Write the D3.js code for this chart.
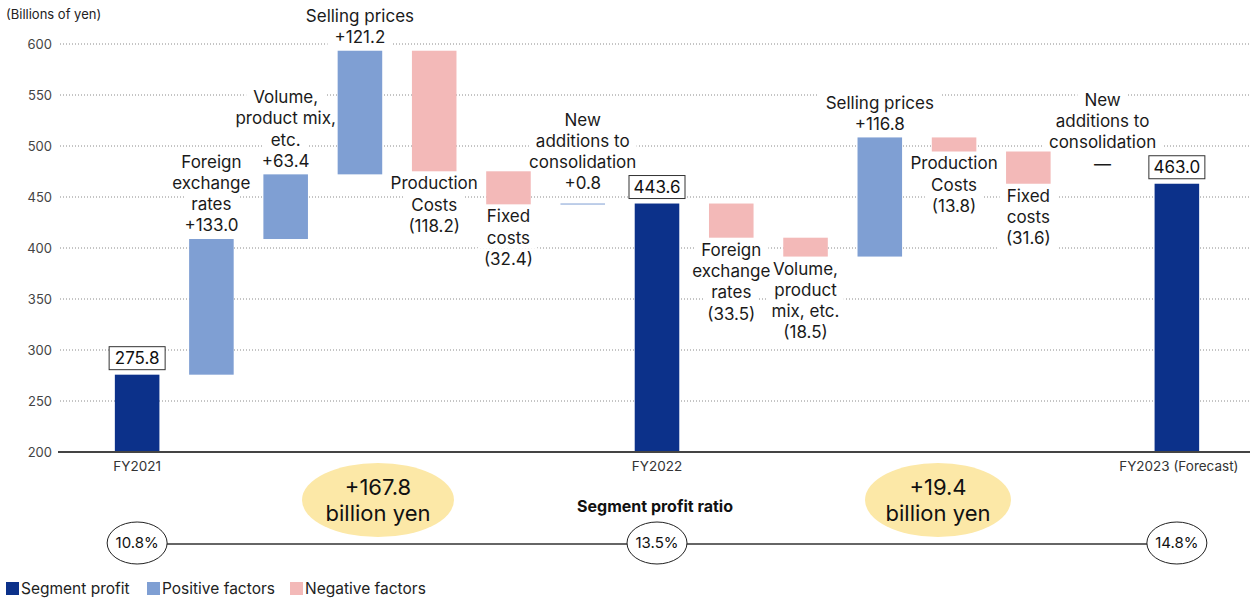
<!DOCTYPE html>
<html>
<head>
<meta charset="utf-8">
<script src="https://cdn.jsdelivr.net/npm/d3@7"></script>
<style>
  html, body { margin: 0; padding: 0; background: #fff; }
  svg { display: block; font-family: Inter, "Noto Sans", sans-serif; }
</style>
</head>
<body>
<svg id="chart" width="1252" height="598"></svg>
<script>
// ---------- data ----------
const categories = ["FY2021", "fx1", "vol1", "sell1", "prod1", "fixed1", "new1",
                    "FY2022", "fx2", "vol2", "sell2", "prod2", "fixed2", "new2", "FY2023"];
const kinds = ["total", "delta", "delta", "delta", "delta", "delta", "delta",
               "total", "delta", "delta", "delta", "delta", "delta", "delta", "total"];
const values = [275.8, 133.0, 63.4, 121.2, -118.2, -32.4, 0.8,
                443.6, -33.5, -18.5, 116.8, -13.8, -31.6, 0, 463.0];
const factorNames = [
  null,
  ["Foreign", "exchange", "rates"],
  ["Volume,", "product mix,", "etc."],
  ["Selling prices"],
  ["Production", "Costs"],
  ["Fixed", "costs"],
  ["New", "additions to", "consolidation"],
  null,
  ["Foreign", "exchange", "rates"],
  ["Volume,", "product", "mix, etc."],
  ["Selling prices"],
  ["Production", "Costs"],
  ["Fixed", "costs"],
  ["New", "additions to", "consolidation"],
  null
];
const axisLabels = ["FY2021", "FY2022", "FY2023 (Forecast)"];
const yTicks = [200, 250, 300, 350, 400, 450, 500, 550, 600];
const changeLabels = [["+167.8", "billion yen"], ["+19.4", "billion yen"]];
const profitRatios = ["10.8%", "13.5%", "14.8%"];
const legendItems = ["Segment profit", "Positive factors", "Negative factors"];

// ---------- styles ----------
const C_TOTAL = "#0c318a", C_POS = "#7f9fd3", C_NEG = "#f3b9b8", C_YEL = "#fce8a7";

// ---------- compute waterfall ----------
let run = 0;
const bars = categories.map((c, i) => {
  const v = values[i];
  let lo, hi;
  if (kinds[i] === "total") { lo = 200; hi = v; run = v; }
  else { const s = run; run = s + v; lo = Math.min(s, run); hi = Math.max(s, run); }
  return { key: c, i, v, kind: kinds[i], lo, hi };
});

const svg = d3.select("#chart");
const x = d3.scaleBand().domain(categories).range([100, 1214]).paddingInner(0.4).paddingOuter(0.2);
const y = d3.scaleLinear().domain([200, 600]).range([452, 44]);
const cx = k => x(k) + x.bandwidth() / 2;
const X0 = 58, X1 = 1250;

// title
svg.append("text").attr("x", 6).attr("y", 19).attr("font-size", 13).attr("fill", "#222")
  .text("(Billions of yen)");

// grid
const yAxis = d3.axisLeft(y).tickValues(yTicks).tickSize(0).tickPadding(0);
const ga = svg.append("g").attr("transform", "translate(52,0)").call(yAxis);
ga.select(".domain").remove();
ga.selectAll("text").attr("font-size", 13).attr("fill", "#444").attr("font-family", "Inter, sans-serif");
svg.append("g").selectAll("line").data(yTicks.filter(t => t > 200)).join("line")
  .attr("x1", X0 + 2).attr("x2", X1).attr("y1", d => y(d)).attr("y2", d => y(d))
  .attr("stroke", "#8a8a8a").attr("stroke-width", 1).attr("stroke-dasharray", "1,2");

// label layout
const LH = 21.3, FS = 17;
const labelBlocks = [];
bars.forEach(b => {
  if (b.kind !== "delta") return;
  const vs = b.v > 0 ? "+" + b.v.toFixed(1) : b.v < 0 ? "(" + Math.abs(b.v).toFixed(1) + ")" : "—";
  const lines = factorNames[b.i].concat([vs]);
  let centers;
  if (b.v >= 0) {
    const off = Math.abs(b.v) < 1 ? 20 : 13.5;
    const last = y(b.hi) - off;
    centers = lines.map((l, j) => last - (lines.length - 1 - j) * LH);
  } else {
    const first = y(b.lo) + 12;
    centers = lines.map((l, j) => first + j * LH);
  }
  lines.forEach((l, j) => labelBlocks.push({ x: cx(b.key), y: centers[j], t: l }));
});

// white backgrounds behind labels
const bgG = svg.append("g");
// bars
svg.append("g").selectAll("rect").data(bars).join("rect")
  .attr("x", d => x(d.key)).attr("width", x.bandwidth())
  .attr("y", d => y(d.hi))
  .attr("height", d => Math.max(y(d.lo) - y(d.hi), d.v === 0 ? 0 : 1))
  .attr("fill", d => d.kind === "total" ? C_TOTAL : d.v >= 0 ? C_POS : C_NEG);

// axis baseline
svg.append("line").attr("x1", X0).attr("x2", X1).attr("y1", y(200)).attr("y2", y(200))
  .attr("stroke", "#444").attr("stroke-width", 2);

// labels
const lt = svg.append("g").selectAll("text").data(labelBlocks).join("text")
  .attr("x", d => d.x).attr("y", d => d.y).attr("dy", "0.35em")
  .attr("text-anchor", "middle").attr("font-size", FS).attr("fill", "#1a1a1a")
  .text(d => d.t);
lt.each(function(d) {
  const w = this.getComputedTextLength();
  bgG.append("rect").attr("x", d.x - w / 2 - 7).attr("width", w + 14)
    .attr("y", d.y - LH / 2).attr("height", LH).attr("fill", "#fff");
});

// total value boxes
const totals = bars.filter(b => b.kind === "total");
const tb = svg.append("g").selectAll("g").data(totals).join("g")
  .attr("transform", d => `translate(${cx(d.key)},${y(d.hi) - 5 - 11.5})`);
tb.append("rect").attr("x", -28).attr("y", -11.5).attr("width", 56).attr("height", 23)
  .attr("fill", "#fff").attr("stroke", "#333").attr("stroke-width", 1);
tb.append("text").attr("text-anchor", "middle").attr("dy", "0.36em").attr("font-size", FS)
  .attr("fill", "#111").text(d => d.v.toFixed(1));

// category labels under totals
svg.append("g").selectAll("text").data(totals).join("text")
  .attr("x", (d, i) => i === 2 ? cx(d.key) + 2 : cx(d.key)).attr("y", 466).attr("dy", "0.35em")
  .attr("text-anchor", "middle").attr("font-size", 13.5).attr("fill", "#333")
  .text((d, i) => axisLabels[i]);

// change ellipses
const ce = svg.append("g").selectAll("g").data(changeLabels).join("g")
  .attr("transform", (d, i) => `translate(${i === 0 ? 378 : 938},500)`);
ce.append("ellipse").attr("rx", (d, i) => i === 0 ? 76 : 73).attr("ry", 37).attr("fill", C_YEL);
ce.append("text").attr("text-anchor", "middle").attr("y", -13).attr("dy", "0.35em")
  .attr("font-size", 22).attr("fill", "#111").text(d => d[0]);
ce.append("text").attr("text-anchor", "middle").attr("y", 13).attr("dy", "0.35em")
  .attr("font-size", 22).attr("fill", "#111").text(d => d[1]);

// segment profit ratio
svg.append("text").attr("x", 655).attr("y", 506).attr("dy", "0.35em").attr("text-anchor", "middle")
  .attr("font-size", 16).attr("font-weight", "bold").attr("fill", "#111").text("Segment profit ratio");
svg.append("line").attr("x1", cx("FY2021")).attr("x2", cx("FY2023")).attr("y1", 544).attr("y2", 544)
  .attr("stroke", "#333").attr("stroke-width", 1.5);
const rg = svg.append("g").selectAll("g").data(totals).join("g")
  .attr("transform", d => `translate(${cx(d.key)},543)`);
rg.append("ellipse").attr("rx", 30).attr("ry", 21).attr("fill", "#fff").attr("stroke", "#222").attr("stroke-width", 1);
rg.append("text").attr("text-anchor", "middle").attr("dy", "0.35em").attr("font-size", 15)
  .attr("fill", "#111").text((d, i) => profitRatios[i]);

// legend
const legX = [6, 147, 290];
const legC = [C_TOTAL, C_POS, C_NEG];
const lg = svg.append("g").selectAll("g").data(legendItems).join("g")
  .attr("transform", (d, i) => `translate(${legX[i]},582)`);
lg.append("rect").attr("width", 13).attr("height", 13).attr("fill", (d, i) => legC[i]);
lg.append("text").attr("x", 15).attr("y", 7).attr("dy", "0.35em").attr("font-size", 15.5)
  .attr("fill", "#222").text(d => d);
</script>
</body>
</html>
